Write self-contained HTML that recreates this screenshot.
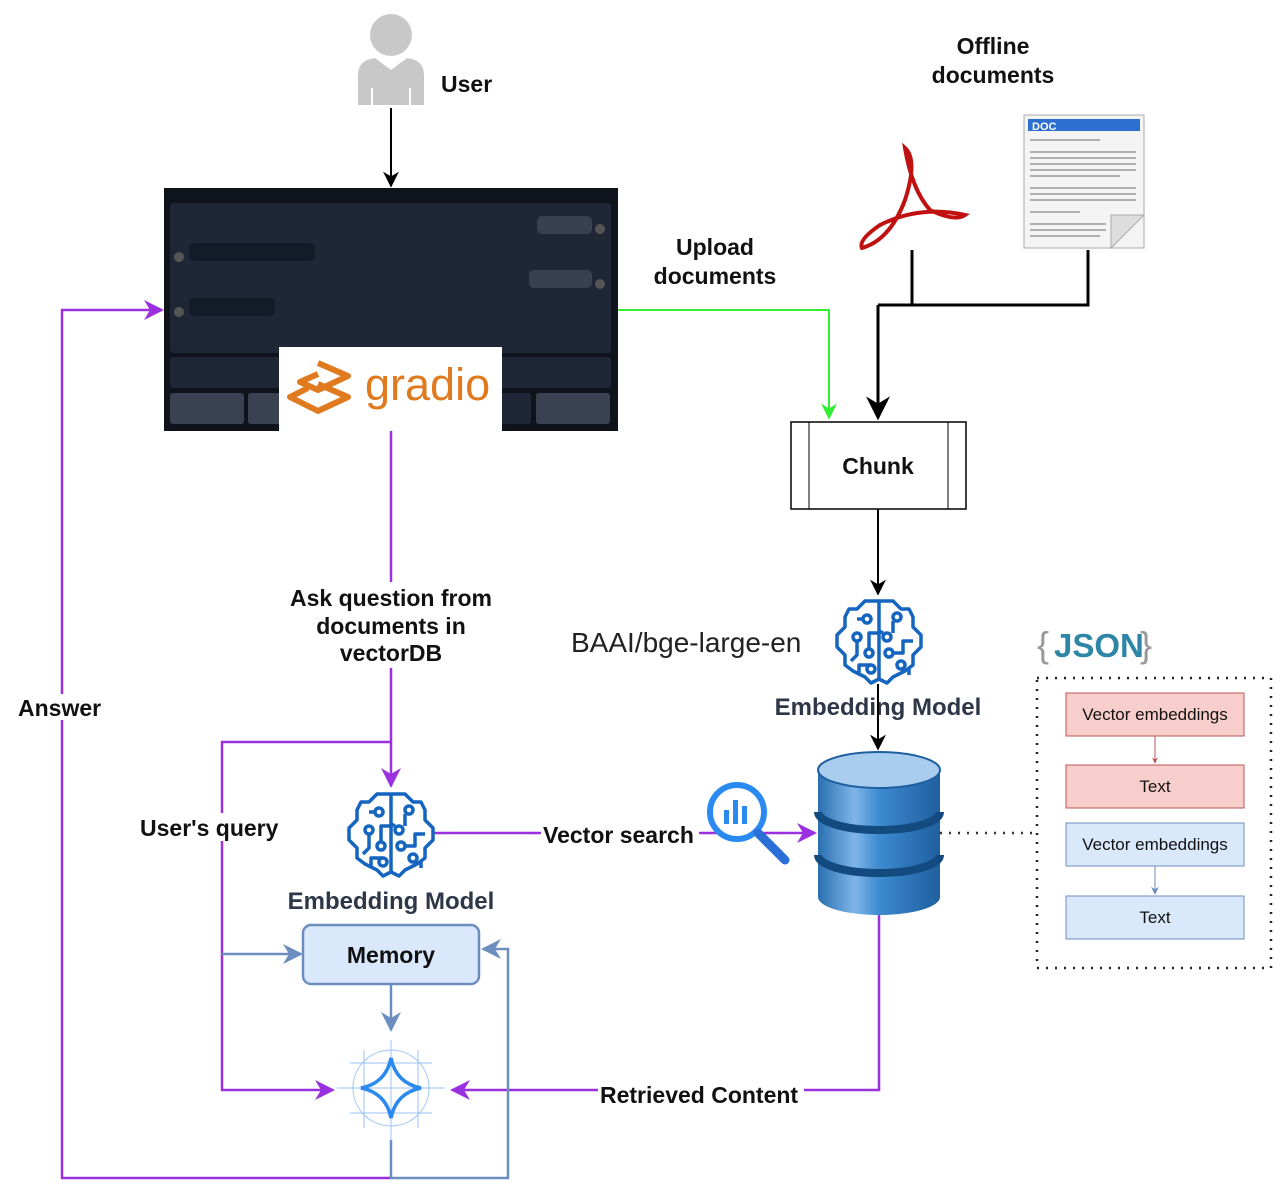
<!DOCTYPE html>
<html><head><meta charset="utf-8"><style>
html,body{margin:0;padding:0;background:#fff;}
svg{display:block;font-family:"Liberation Sans",sans-serif;}
.b{font-weight:bold;font-size:23px;fill:#111;}
.e{font-weight:bold;font-size:24px;fill:#2d3748;}
</style></head><body>
<svg width="1284" height="1188" viewBox="0 0 1284 1188" xmlns="http://www.w3.org/2000/svg">
<defs>
<marker id="ak" viewBox="0 0 10 10" refX="9" refY="5" markerWidth="8" markerHeight="8" orient="auto"><path d="M0,0 L10,5 L0,10 L3,5z" fill="#000"/></marker>
<marker id="ap" viewBox="0 0 10 10" refX="9" refY="5" markerWidth="8" markerHeight="8" orient="auto"><path d="M0,0 L10,5 L0,10 L3,5z" fill="#9b30e0"/></marker>
<marker id="ag" viewBox="0 0 10 10" refX="9" refY="5" markerWidth="8" markerHeight="8" orient="auto"><path d="M0,0 L10,5 L0,10 L3,5z" fill="#33ee33"/></marker>
<marker id="ab" viewBox="0 0 10 10" refX="9" refY="5" markerWidth="8" markerHeight="8" orient="auto"><path d="M0,0 L10,5 L0,10 L3,5z" fill="#6c8ebf"/></marker>
<marker id="ar" viewBox="0 0 10 10" refX="9" refY="5" markerWidth="6" markerHeight="6" orient="auto"><path d="M0,0 L10,5 L0,10 L3,5z" fill="#b85450"/></marker>
<linearGradient id="cyl" x1="0" x2="1"><stop offset="0" stop-color="#2a6fb0"/><stop offset="0.3" stop-color="#7fb6e8"/><stop offset="0.5" stop-color="#3d8ad0"/><stop offset="1" stop-color="#1f5f9f"/></linearGradient>
<g id="brain" fill="none" stroke="#1565c0" stroke-width="3.5" stroke-linejoin="round">
<path d="M0,-40 L-14,-40 L-22,-32 L-30,-32 L-34,-24 L-34,-14 L-42,-6 L-42,6 L-34,14 L-34,24 L-26,30 L-14,36 L-8,42 L0,38 L8,42 L14,36 L26,30 L34,24 L34,14 L42,6 L42,-6 L34,-14 L34,-24 L30,-32 L22,-32 L14,-40 Z M0,-40 L0,38"/>
<circle cx="-12" cy="-22" r="4"/><circle cx="-22" cy="-4" r="4"/><circle cx="-10" cy="12" r="4"/><circle cx="-8" cy="28" r="4"/>
<circle cx="18" cy="-24" r="4"/><circle cx="8" cy="-4" r="4"/><circle cx="10" cy="12" r="4"/><circle cx="22" cy="24" r="4"/>
<path d="M-22,-22 L-16,-22 M-22,0 L-22,14 L-28,20 M0,-8 L-10,-8 L-10,8 M-8,24 L-20,24 L-20,32 M14,-20 L14,-8 M0,-10 L4,-8 M14,12 L24,12 L24,0 L34,0 M30,34 L30,28"/>
</g>
</defs>

<circle cx="391" cy="35" r="21" fill="#c8c8c8"/>
<path d="M358,105 L358,75 Q358,60 375,58 L391,70 L407,58 Q424,60 424,75 L424,105 Z" fill="#c8c8c8"/>
<line x1="372" y1="88" x2="372" y2="105" stroke="#fff" stroke-width="2"/><line x1="410" y1="88" x2="410" y2="105" stroke="#fff" stroke-width="2"/>
<text x="441" y="92" class="b">User</text>
<line x1="391" y1="108" x2="391" y2="186" stroke="#000" stroke-width="2" marker-end="url(#ak)"/>

<rect x="164" y="188" width="454" height="243" fill="#0f131c"/>
<rect x="170" y="203" width="441" height="150" rx="3" fill="#1f2736"/>
<rect x="537" y="216" width="55" height="18" rx="5" fill="#374151"/>
<rect x="189" y="243" width="126" height="18" rx="5" fill="#141b28"/>
<rect x="529" y="270" width="63" height="18" rx="5" fill="#374151"/>
<rect x="189" y="298" width="86" height="18" rx="5" fill="#141b28"/>
<circle cx="179" cy="257" r="5" fill="#555"/><circle cx="179" cy="312" r="5" fill="#555"/>
<circle cx="600" cy="229" r="5" fill="#555"/><circle cx="600" cy="284" r="5" fill="#555"/>
<rect x="170" y="357" width="441" height="31" rx="3" fill="#1f2736"/>
<rect x="170" y="393" width="74" height="31" rx="3" fill="#3a4251"/>
<rect x="248" y="393" width="40" height="31" rx="3" fill="#3a4251"/>
<rect x="496" y="393" width="35" height="31" rx="3" fill="#1f2736"/>
<rect x="536" y="393" width="74" height="31" rx="3" fill="#3a4251"/>
<rect x="279" y="347" width="223" height="84" fill="#fff"/>
<g fill="none" stroke="#e07a1f" stroke-width="6" stroke-linejoin="round">
<path d="M318,363 L348,376 L318,390 L300,382 L318,374"/>
<path d="M318,384 L348,397 L318,411 L290,397 L308,388"/>
</g>
<text x="365" y="400" font-size="45" fill="#e07a1f" font-family="Liberation Sans,sans-serif">gradio</text>

<polyline points="618,310 829,310 829,418" fill="none" stroke="#33ee33" stroke-width="2" marker-end="url(#ag)"/>
<text x="715" y="255" class="b" text-anchor="middle">Upload</text>
<text x="715" y="284" class="b" text-anchor="middle">documents</text>

<text x="993" y="54" class="b" text-anchor="middle">Offline</text>
<text x="993" y="83" class="b" text-anchor="middle">documents</text>
<g fill="none" stroke="#c01010" stroke-width="4">
<path d="M905,148 Q918,160 905,200 Q890,240 862,248 Q858,240 880,225 Q920,205 965,215 Q955,222 930,210 Q912,190 905,148 Z"/>
</g>
<rect x="1024" y="115" width="120" height="133" fill="#f4f4f4" stroke="#aaa"/>
<path d="M1144,215 L1111,248 L1111,215 Z" fill="#ddd" stroke="#aaa"/>
<rect x="1028" y="119" width="112" height="12" fill="#2d6fd0"/>
<text x="1032" y="130" font-size="11" fill="#fff" font-weight="bold">DOC</text>
<g stroke="#999" stroke-width="1.5">
<line x1="1030" y1="140" x2="1100" y2="140"/><line x1="1030" y1="152" x2="1136" y2="152"/><line x1="1030" y1="158" x2="1136" y2="158"/><line x1="1030" y1="164" x2="1136" y2="164"/><line x1="1030" y1="170" x2="1136" y2="170"/><line x1="1030" y1="176" x2="1120" y2="176"/><line x1="1030" y1="188" x2="1136" y2="188"/><line x1="1030" y1="194" x2="1136" y2="194"/><line x1="1030" y1="200" x2="1136" y2="200"/><line x1="1030" y1="212" x2="1080" y2="212"/><line x1="1030" y1="224" x2="1106" y2="224"/><line x1="1030" y1="230" x2="1106" y2="230"/><line x1="1030" y1="236" x2="1100" y2="236"/>
</g>
<g fill="none" stroke="#000" stroke-width="3">
<line x1="912" y1="250" x2="912" y2="305"/>
<polyline points="1088,250 1088,305 878,305"/>
</g>
<line x1="878" y1="305" x2="878" y2="418" stroke="#000" stroke-width="3" marker-end="url(#ak)"/>

<rect x="791" y="422" width="175" height="87" fill="#fff" stroke="#000" stroke-width="1.5"/>
<line x1="809" y1="422" x2="809" y2="509" stroke="#000"/><line x1="948" y1="422" x2="948" y2="509" stroke="#000"/>
<text x="878" y="474" class="b" text-anchor="middle">Chunk</text>
<line x1="878" y1="509" x2="878" y2="594" stroke="#000" stroke-width="2" marker-end="url(#ak)"/>
<use href="#brain" x="879" y="641"/>
<text x="571" y="652" font-size="28" fill="#222">BAAI/bge-large-en</text>
<text x="878" y="715" class="e" text-anchor="middle">Embedding Model</text>
<line x1="878" y1="684" x2="878" y2="749" stroke="#000" stroke-width="2" marker-end="url(#ak)"/>

<path d="M818,770 L818,897 A61,18 0 0 0 940,897 L940,770 Z" fill="url(#cyl)"/>
<ellipse cx="879" cy="770" rx="61" ry="18" fill="#a9cdee" stroke="#1f5f9f" stroke-width="2"/>
<path d="M818,812 A61,18 0 0 0 940,812 M818,855 A61,18 0 0 0 940,855" fill="none" stroke="#134a80" stroke-width="8"/>
<line x1="940" y1="833" x2="1037" y2="833" stroke="#333" stroke-width="2.5" stroke-dasharray="2,7"/>

<text x="1037" y="657" font-size="36" fill="#999">{</text>
<text x="1054" y="657" font-size="33" fill="#2e86a6" font-weight="bold">JSON</text>
<text x="1140" y="657" font-size="36" fill="#999">}</text>
<rect x="1037" y="678" width="234" height="290" fill="none" stroke="#222" stroke-width="2.5" stroke-dasharray="2,7"/>
<rect x="1066" y="693" width="178" height="43" fill="#f8cecc" stroke="#b85450"/>
<text x="1155" y="720" font-size="17" text-anchor="middle" fill="#111">Vector embeddings</text>
<line x1="1155" y1="736" x2="1155" y2="763" stroke="#b85450" marker-end="url(#ar)"/>
<rect x="1066" y="765" width="178" height="43" fill="#f8cecc" stroke="#b85450"/>
<text x="1155" y="792" font-size="17" text-anchor="middle" fill="#111">Text</text>
<rect x="1066" y="823" width="178" height="43" fill="#dae8fc" stroke="#6c8ebf"/>
<text x="1155" y="850" font-size="17" text-anchor="middle" fill="#111">Vector embeddings</text>
<line x1="1155" y1="866" x2="1155" y2="894" stroke="#6c8ebf" marker-end="url(#ab)"/>
<rect x="1066" y="896" width="178" height="43" fill="#dae8fc" stroke="#6c8ebf"/>
<text x="1155" y="923" font-size="17" text-anchor="middle" fill="#111">Text</text>

<g fill="none" stroke="#9b30e0" stroke-width="2.5">
<line x1="391" y1="431" x2="391" y2="786" marker-end="url(#ap)"/>
<polyline points="391,742 222,742 222,1090 333,1090" marker-end="url(#ap)"/>
<line x1="434" y1="833" x2="815" y2="833" marker-end="url(#ap)"/>
<polyline points="879,915 879,1090 452,1090" marker-end="url(#ap)"/>
<polyline points="391,1178 62,1178 62,310 162,310" marker-end="url(#ap)"/>
</g>
<rect x="284" y="582" width="216" height="86" fill="#fff"/>
<text x="391" y="606" class="b" text-anchor="middle">Ask question from</text>
<text x="391" y="634" class="b" text-anchor="middle">documents in</text>
<text x="391" y="661" class="b" text-anchor="middle">vectorDB</text>
<rect x="14" y="694" width="92" height="26" fill="#fff"/>
<text x="18" y="716" class="b">Answer</text>
<rect x="138" y="813" width="145" height="28" fill="#fff"/>
<text x="140" y="836" class="b">User's query</text>
<rect x="541" y="820" width="158" height="28" fill="#fff"/>
<text x="543" y="843" class="b">Vector search</text>
<rect x="598" y="1080" width="206" height="28" fill="#fff"/>
<text x="600" y="1103" class="b">Retrieved Content</text>

<circle cx="737" cy="812" r="27" fill="#fff" stroke="#2a8af0" stroke-width="6"/>
<rect x="724" y="810" width="5" height="14" fill="#2a8af0"/><rect x="733" y="800" width="5" height="24" fill="#2a8af0"/><rect x="742" y="806" width="5" height="18" fill="#2a8af0"/>
<line x1="758" y1="833" x2="785" y2="860" stroke="#2a6fd8" stroke-width="9" stroke-linecap="round"/>

<use href="#brain" x="391" y="834"/>
<text x="391" y="909" class="e" text-anchor="middle">Embedding Model</text>
<g fill="none" stroke="#6c8ebf" stroke-width="2.5">
<line x1="222" y1="954" x2="301" y2="954" marker-end="url(#ab)"/>
<line x1="391" y1="984" x2="391" y2="1030" marker-end="url(#ab)"/>
<polyline points="391,1140 391,1178 508,1178 508,949 483,949" marker-end="url(#ab)"/>
</g>
<rect x="303" y="925" width="176" height="59" rx="8" fill="#dae8fc" stroke="#6c8ebf" stroke-width="2.5"/>
<text x="391" y="963" class="b" text-anchor="middle">Memory</text>

<g fill="none" stroke="#9cc3f5" stroke-width="1">
<circle cx="391" cy="1088" r="38"/>
<line x1="337" y1="1088" x2="445" y2="1088"/><line x1="391" y1="1040" x2="391" y2="1140"/>
<line x1="350" y1="1063" x2="432" y2="1063"/><line x1="350" y1="1113" x2="432" y2="1113"/>
<line x1="364" y1="1050" x2="364" y2="1128"/><line x1="418" y1="1050" x2="418" y2="1128"/>
</g>
<path d="M391,1058 Q396,1083 421,1088 Q396,1093 391,1118 Q386,1093 361,1088 Q386,1083 391,1058 Z" fill="none" stroke="#2a8af0" stroke-width="3.5"/>
</svg>
</body></html>
